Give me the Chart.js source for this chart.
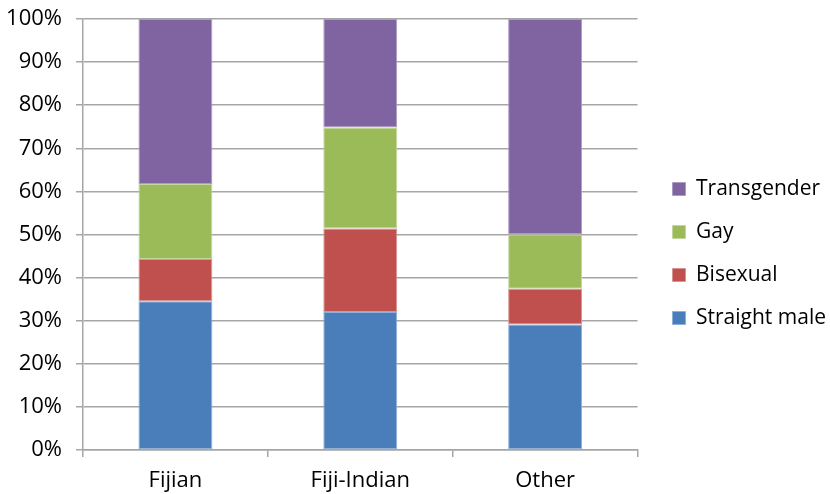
<!DOCTYPE html>
<html lang="en">
<head>
    <meta charset="UTF-8">
    <title>Respondents by ethnicity</title>
    <script src="https://cdn.jsdelivr.net/npm/chart.js"></script>
    <style>
        html, body { margin: 0; padding: 0; background: #fff; }
        #wrap { width: 830px; height: 494px; }
    </style>
</head>
<body>
<div id="wrap">
    <canvas id="myChart" width="830" height="494"></canvas>
</div>

<script>
    // share of each group within every ethnicity, in percent
    const groups = ['Fijian', 'Fiji-Indian', 'Other'];
    const straightMale = [34.5, 32.0, 29.1];
    const bisexual = [9.8, 19.4, 8.3];
    const gay = [17.4, 23.4, 12.6];
    const transgender = [38.3, 25.2, 50.0];
    const yTicks = [0, 10, 20, 30, 40, 50, 60, 70, 80, 90, 100];

    const gridGrey = '#a6a6a6';
    const fontFamily = "'Open Sans', 'DejaVu Sans', sans-serif";

    function series(label, data, color, border) {
        return {
            label: label,
            data: data,
            backgroundColor: color,
            borderColor: border,
            borderWidth: 1,
            borderSkipped: false,
            barPercentage: 0.4,
            categoryPercentage: 1.0
        };
    }

    // nudge the legend towards the right edge once the layout is done
    const legendShift = {
        id: 'legendShift',
        afterLayout: function (chart) {
            const lg = chart.legend;
            if (lg) {
                lg.left += 13;
                lg.right += 13;
                lg.top -= 3;
                lg.bottom -= 3;
            }
        }
    };

    var ctx = document.getElementById('myChart').getContext('2d');
    var myChart = new Chart(ctx, {
        type: 'bar',
        data: {
            labels: groups,
            datasets: [
                series('Straight male', straightMale, '#4a7ebb', '#8fb0d8'),
                series('Bisexual', bisexual, '#c0504d', '#d89593'),
                series('Gay', gay, '#9bbb59', '#c3d69f'),
                series('Transgender', transgender, '#8064a2', '#ab9cc2')
            ]
        },
        plugins: [legendShift],
        options: {
            responsive: false,
            animation: false,
            layout: { padding: { top: 19, right: 7, left: 0, bottom: 0 } },
            plugins: {
                tooltip: { enabled: false },
                legend: {
                    position: 'right',
                    reverse: true,
                    labels: {
                        boxWidth: 13,
                        boxHeight: 13,
                        padding: 22,
                        color: '#000',
                        font: { family: fontFamily, size: 21 }
                    }
                }
            },
            scales: {
                x: {
                    stacked: true,
                    afterFit: function (scale) { scale.height = 44; },
                    grid: {
                        offset: true,
                        drawOnChartArea: false,
                        drawTicks: true,
                        tickLength: 7,
                        color: gridGrey,
                        lineWidth: 1.5
                    },
                    border: { color: gridGrey, width: 1.5 },
                    ticks: {
                        padding: 11,
                        color: '#000',
                        font: { family: fontFamily, size: 22 }
                    }
                },
                y: {
                    stacked: true,
                    min: 0,
                    max: 100,
                    afterFit: function (scale) {
                        scale.width = 83;
                        scale.paddingTop = 0;
                        scale.paddingBottom = 0;
                    },
                    afterBuildTicks: function (scale) {
                        scale.ticks = yTicks.map(function (v) { return { value: v }; });
                    },
                    grid: {
                        drawTicks: true,
                        tickLength: 7,
                        color: gridGrey,
                        lineWidth: 1.5
                    },
                    border: { color: gridGrey, width: 1.5 },
                    ticks: {
                        padding: 14,
                        color: '#000',
                        font: { family: fontFamily, size: 22 },
                        callback: function (v) { return v + '%'; }
                    }
                }
            }
        }
    });
</script>
</body>
</html>
